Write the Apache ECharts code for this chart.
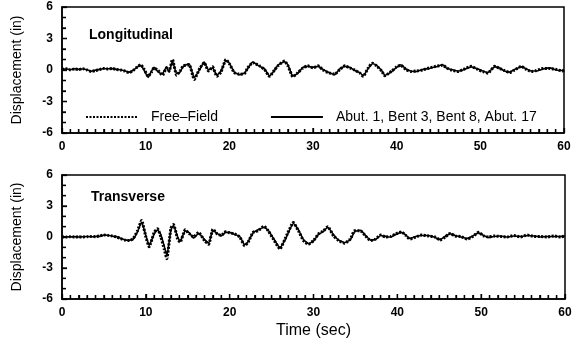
<!DOCTYPE html>
<html><head><meta charset="utf-8">
<script src="https://cdn.jsdelivr.net/npm/echarts@6/dist/echarts.min.js"></script>
<style>html,body{margin:0;padding:0;background:#fff}#c{width:577px;height:347px}</style>
</head><body><div id="c"></div>
<script>
// Longitudinal panel
const timeL = [0,0.5,1,1.5,2,2.5,3,3.5,4,4.5,5,5.5,6,6.5,7,7.5,8,8.5,9,9.4,9.8,10.3,10.7,11,11.5,12,12.5,12.8,13.2,13.7,14.1,14.5,15.2,15.8,16.5,17,17.5,18,18.5,19,19.6,20,20.6,21.2,21.8,22.2,22.8,23.6,24.2,24.8,25.4,25.8,26.6,27,27.6,28.2,28.8,29.4,30,30.6,31.2,31.8,32.6,33.2,33.8,34.4,35,35.6,36,36.6,37.1,37.6,38.2,38.6,39.4,40,40.5,41.1,41.7,42.3,43.1,43.9,44.7,45.5,46,46.5,47.3,48.1,48.9,49.7,50.3,50.9,51.7,52.3,52.9,53.5,54.1,54.9,55.4,56.1,56.7,57.5,58.3,59.1,59.8,60];
const freeL = [0.05,0.12,0.02,0.1,0.05,0.12,0.0,-0.15,-0.05,0.05,
 0.15,0.1,0.15,0.05,0.0,-0.1,-0.25,-0.05,0.3,0.5,
 0.1,-0.6,-0.2,0.2,-0.05,-0.5,0.2,-0.1,1.0,-0.5,
 -0.1,0.4,0.5,-0.9,0.2,0.7,-0.1,0.3,-0.6,-0.2,
 1.0,0.6,-0.25,-0.4,-0.35,0.2,0.7,0.4,0.05,-0.6,
 0.0,0.4,0.85,0.4,-0.65,-0.25,0.2,0.4,0.2,0.4,
 0.0,-0.25,-0.4,0.05,0.4,0.2,0.0,-0.3,-0.6,0.2,
 0.65,0.4,-0.1,-0.55,-0.1,0.3,0.45,0.05,-0.15,-0.1,
 0.0,0.2,0.35,0.45,0.2,0.0,-0.15,0.1,0.35,0.05,
 -0.15,-0.3,0.35,0.15,-0.05,-0.25,0.0,0.35,0.1,-0.15,
 -0.05,0.15,0.15,0.05,-0.1,0.0];
const abutL = [0.08,0.1,0.04,0.12,0.06,0.1,0.02,-0.12,-0.03,0.06,
 0.13,0.12,0.13,0.06,0.02,-0.08,-0.22,-0.02,0.28,0.45,
 0.0,-0.7,-0.1,0.25,-0.2,-0.35,0.3,-0.2,0.85,-0.35,
 -0.2,0.35,0.6,-0.75,0.1,0.75,0.0,0.2,-0.5,-0.1,
 0.9,0.65,-0.2,-0.45,-0.3,0.15,0.75,0.35,0.1,-0.55,
 -0.05,0.45,0.8,0.5,-0.6,-0.3,0.25,0.35,0.25,0.35,
 0.05,-0.2,-0.45,0.1,0.35,0.25,-0.05,-0.25,-0.55,0.15,
 0.6,0.45,-0.05,-0.5,-0.15,0.25,0.5,0.1,-0.1,-0.15,
 0.05,0.15,0.3,0.5,0.15,0.05,-0.1,0.05,0.3,0.1,
 -0.1,-0.25,0.3,0.2,-0.1,-0.2,0.05,0.3,0.15,-0.1,
 -0.1,0.1,0.2,0.0,-0.05,0.0];
// Transverse panel
const timeT = [0,0.5,1,1.5,2,2.5,3,3.5,4,4.5,5,5.5,6,6.5,7,7.5,8,8.5,9,9.5,10,10.4,11,11.4,11.8,12.2,12.5,13,13.3,13.8,14.1,14.7,15.2,15.7,16.3,17,17.5,18,18.5,19,19.5,20,20.6,21.2,21.8,22.2,22.8,23.4,24.1,24.6,25.2,26,26.6,27.6,28.2,28.8,29.4,30,30.6,31.2,31.7,32.4,33,33.7,34.4,34.9,35.6,36.2,36.8,37.4,38,38.6,39.2,39.8,40.5,41,41.5,42.2,42.9,43.7,44.5,45.1,45.7,46.3,46.9,47.6,48.3,48.9,49.7,50.3,50.9,51.5,52.3,53.1,53.9,54.7,55.5,56.3,57.1,57.9,58.7,59.5,60];
const freeT = [0.02,0.0,0.03,0.0,0.02,0.0,0.03,0.05,0.03,0.1,
 0.2,0.15,0.1,0.0,-0.15,-0.3,-0.35,-0.15,0.6,1.6,
 0.0,-0.95,0.45,0.8,0.0,-1.2,-2.1,0.9,1.2,-0.2,
 -0.5,0.7,0.3,0.0,0.45,-0.35,-0.7,0.75,0.3,0.15,
 0.5,0.4,0.3,0.0,-0.85,-0.5,0.45,0.6,1.05,0.6,
 -0.2,-1.15,-0.2,1.4,0.6,-0.35,-0.7,-0.35,0.3,0.6,
 1.0,0.1,-0.35,-0.6,-0.2,0.6,0.6,0.1,-0.35,-0.2,
 0.2,0.0,0.05,0.3,0.5,0.15,-0.2,0.0,0.2,0.1,
 0.0,-0.3,0.0,0.35,0.1,0.05,-0.2,0.0,0.45,0.1,
 0.0,0.1,0.05,0.0,0.15,0.0,0.2,0.05,0.05,0.0,
 0.1,0.0,0.1];
const abutT = [0.0,0.02,0.01,0.02,0.0,0.02,0.05,0.03,0.05,0.08,
 0.18,0.17,0.08,0.02,-0.12,-0.28,-0.3,-0.2,0.5,1.45,
 0.15,-0.8,0.3,0.7,0.2,-0.9,-1.8,0.7,1.1,0.0,
 -0.4,0.6,0.4,-0.1,0.35,-0.25,-0.6,0.65,0.35,0.1,
 0.45,0.45,0.25,0.05,-0.75,-0.45,0.4,0.7,0.95,0.65,
 -0.1,-1.05,-0.3,1.3,0.7,-0.25,-0.65,-0.4,0.25,0.55,
 0.95,0.2,-0.3,-0.55,-0.25,0.5,0.65,0.15,-0.3,-0.25,
 0.15,0.05,0.0,0.25,0.45,0.2,-0.15,0.05,0.15,0.15,
 -0.05,-0.25,0.05,0.3,0.15,0.0,-0.15,0.05,0.4,0.15,
 -0.05,0.05,0.1,0.0,0.1,0.05,0.15,0.1,0.0,0.05,
 0.05,0.05,0.1];
const xTicks = {min:0, max:60, interval:10, minorStep:1};
const yTicks = {min:-6, max:6, interval:3, minorStep:1};
const panelTitles = ['Longitudinal','Transverse'];
const seriesNames = ['Free\u2013Field','Abut. 1, Bent 3, Bent 8, Abut. 17'];

const FONT = '"Liberation Sans", Arial, sans-serif';
const zip = (t, v) => t.map((x, i) => [x, v[i]]);

function xAxis(idx, withName) {
  const ax = {
    type:'value', gridIndex:idx, position:'bottom', min:xTicks.min, max:xTicks.max, interval:xTicks.interval,
    axisLine:{show:true, onZero:false, lineStyle:{color:'#000', width:1.5}},
    axisTick:{show:true, inside:true, length:5, lineStyle:{color:'#000', width:1.3}},
    minorTick:{show:true, splitNumber:10, length:4, lineStyle:{color:'#000', width:1.3}},
    splitLine:{show:false},
    axisLabel:{color:'#000', fontFamily:FONT, fontWeight:'bold', fontSize:12, margin:8}
  };
  if (withName) {
    ax.name = 'Time (sec)'; ax.nameLocation = 'middle'; ax.nameGap = 24;
    ax.nameTextStyle = {color:'#000', fontFamily:FONT, fontSize:16};
  }
  return ax;
}
function yAxis(idx) {
  return {
    type:'value', gridIndex:idx, position:'left', min:yTicks.min, max:yTicks.max, interval:yTicks.interval,
    axisLine:{show:true, onZero:false, lineStyle:{color:'#000', width:1.5}},
    axisTick:{show:true, inside:true, length:5, lineStyle:{color:'#000', width:1.3}},
    minorTick:{show:true, splitNumber:3, length:4, lineStyle:{color:'#000', width:1.3}},
    splitLine:{show:false},
    axisLabel:{color:'#000', fontFamily:FONT, fontWeight:'bold', fontSize:12, margin:9},
    name:'Displacement (in)', nameLocation:'middle', nameGap:38,
    nameTextStyle:{color:'#000', fontFamily:FONT, fontSize:14}
  };
}
function freeSeries(idx, t, v) {
  return {name:seriesNames[0], type:'line', xAxisIndex:idx, yAxisIndex:idx, data:zip(t, v),
    symbol:'none', smooth:0.15, itemStyle:{color:'#000'},
    lineStyle:{color:'#000', width:3, type:[2,1.5]}};
}
function abutSeries(idx, t, v) {
  return {name:seriesNames[1], type:'line', xAxisIndex:idx, yAxisIndex:idx, data:zip(t, v),
    symbol:'none', smooth:0.15, itemStyle:{color:'#000'},
    lineStyle:{color:'#000', width:1.6}};
}

const chart = echarts.init(document.getElementById('c'));
chart.setOption({
  animation:false,
  title:[
    {text:panelTitles[0], left:84, top:23, textStyle:{fontFamily:FONT, fontSize:14, fontWeight:'bold', color:'#000'}},
    {text:panelTitles[1], left:86, top:185, textStyle:{fontFamily:FONT, fontSize:14, fontWeight:'bold', color:'#000'}}
  ],
  grid:[
    {left:62, right:13, top:7, height:126, show:true, borderColor:'#000', borderWidth:1.5},
    {left:62, right:12, top:175, height:124, show:true, borderColor:'#000', borderWidth:1.5}
  ],
  legend:{left:80, top:105, itemWidth:52, itemHeight:12, itemGap:52,
    itemStyle:{opacity:0},
    textStyle:{fontFamily:FONT, fontSize:14, color:'#000', padding:[0,0,0,8]},
    data:seriesNames},
  xAxis:[xAxis(0,false), xAxis(1,true)],
  yAxis:[yAxis(0), yAxis(1)],
  series:[
    freeSeries(0, timeL, freeL), abutSeries(0, timeL, abutL),
    freeSeries(1, timeT, freeT), abutSeries(1, timeT, abutT)
  ]
});

// inward axis ticks placed through the library's own scales
const tickEls = [];
[0, 1].forEach(idx => {
  const finder = {xAxisIndex: idx, yAxisIndex: idx};
  for (let t = xTicks.min; t <= xTicks.max; t += xTicks.minorStep) {
    const p = chart.convertToPixel(finder, [t, yTicks.min]);
    const len = (t % xTicks.interval === 0) ? 5 : 4;
    tickEls.push({type:'line', silent:true, z:50,
      shape:{x1:p[0], y1:p[1], x2:p[0], y2:p[1] - len},
      style:{stroke:'#000', lineWidth:1.3}});
  }
  for (let v = yTicks.min; v <= yTicks.max; v += yTicks.minorStep) {
    const p = chart.convertToPixel(finder, [xTicks.min, v]);
    const len = (v % yTicks.interval === 0) ? 5 : 4;
    tickEls.push({type:'line', silent:true, z:50,
      shape:{x1:p[0], y1:p[1], x2:p[0] + len, y2:p[1]},
      style:{stroke:'#000', lineWidth:1.3}});
  }
});
chart.setOption({graphic:{elements:tickEls}});
</script></body></html>
